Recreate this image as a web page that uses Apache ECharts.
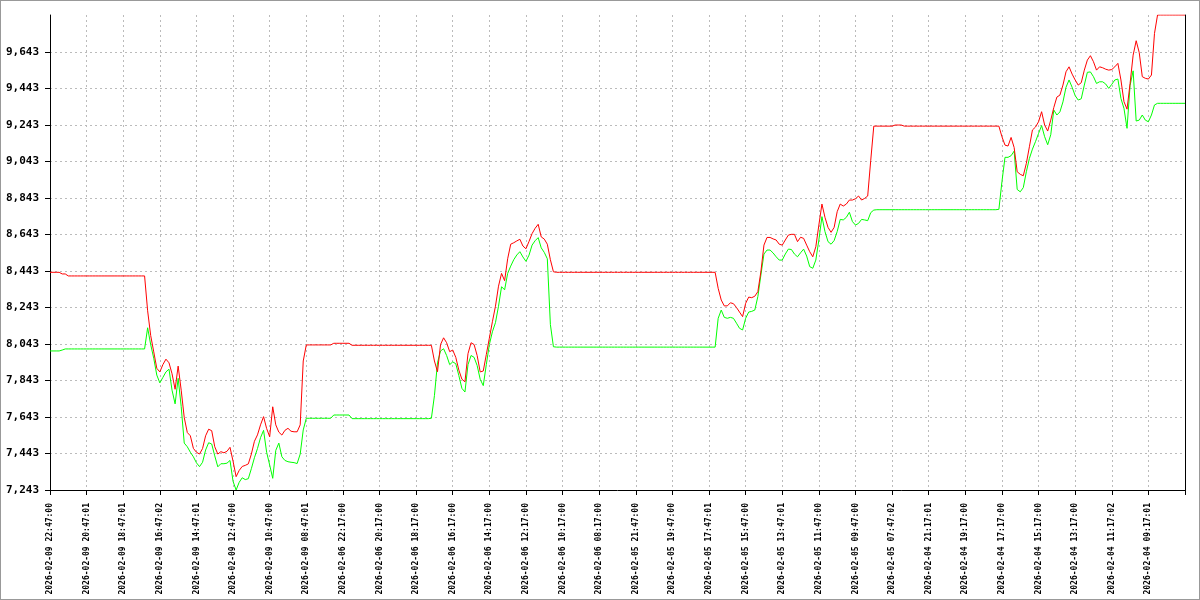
<!DOCTYPE html>
<html><head><meta charset="utf-8">
<script src="https://cdn.jsdelivr.net/npm/echarts@6/dist/echarts.min.js"></script>
<style>
html,body{margin:0;padding:0;background:#fff;}
#wrap{position:relative;width:1200px;height:600px;}
#chart{width:1200px;height:600px;}
#frame{position:absolute;left:0;top:0;width:1200px;height:600px;box-sizing:border-box;border:1px solid #999;pointer-events:none;}
</style></head><body>
<div id="wrap"><div id="chart"></div><div id="frame"></div></div>
<script>
const TICK_LABELS = [
'2026-02-09 22:47:00','2026-02-09 20:47:01','2026-02-09 18:47:01','2026-02-09 16:47:02','2026-02-09 14:47:01','2026-02-09 12:47:00','2026-02-09 10:47:00','2026-02-09 08:47:01',
'2026-02-06 22:17:00','2026-02-06 20:17:00','2026-02-06 18:17:00','2026-02-06 16:17:00','2026-02-06 14:17:00','2026-02-06 12:17:00','2026-02-06 10:17:00','2026-02-06 08:17:00',
'2026-02-05 21:47:00','2026-02-05 19:47:00','2026-02-05 17:47:01','2026-02-05 15:47:00','2026-02-05 13:47:01','2026-02-05 11:47:00','2026-02-05 09:47:00','2026-02-05 07:47:02',
'2026-02-04 21:17:01','2026-02-04 19:17:00','2026-02-04 17:17:00','2026-02-04 15:17:00','2026-02-04 13:17:00','2026-02-04 11:17:02','2026-02-04 09:17:01'
];
const Y_TICKS = [7.243,7.443,7.643,7.843,8.043,8.243,8.443,8.643,8.843,9.043,9.243,9.443,9.643];
const Y_MIN = 7.243;
const Y_MAX = 9.846;
const POINTS_PER_LABEL = 12;

const RED = [
// 0-9
8.436,8.436,8.436,8.436,8.427,8.427,8.416,8.416,8.416,8.416,
// 10-19
8.416,8.416,8.416,8.416,8.416,8.416,8.416,8.416,8.416,8.416,
// 20-29
8.416,8.416,8.416,8.416,8.416,8.416,8.416,8.416,8.416,8.416,
// 30-39
8.416,8.416,8.225,8.090,8.000,7.910,7.890,7.930,7.960,7.940,
// 40-49
7.880,7.795,7.922,7.790,7.640,7.558,7.540,7.471,7.450,7.440,
// 50-59
7.470,7.540,7.576,7.568,7.480,7.440,7.453,7.447,7.455,7.477,
// 60-69
7.400,7.316,7.350,7.372,7.378,7.386,7.440,7.510,7.545,7.600,
// 70-79
7.645,7.580,7.535,7.699,7.600,7.560,7.544,7.570,7.581,7.565,
// 80-89
7.562,7.562,7.600,7.950,8.038,8.038,8.038,8.038,8.038,8.038,
// 90-99
8.038,8.038,8.038,8.047,8.047,8.047,8.047,8.047,8.047,8.036,
// 100-109
8.036,8.036,8.036,8.036,8.036,8.036,8.036,8.036,8.036,8.036,
// 110-119
8.036,8.036,8.036,8.036,8.036,8.036,8.036,8.036,8.036,8.036,
// 120-129
8.036,8.036,8.036,8.036,8.036,8.036,7.950,7.891,8.040,8.077,
// 130-139
8.050,8.001,8.010,7.970,7.900,7.850,7.836,7.990,8.050,8.040,
// 140-149
7.980,7.890,7.895,7.985,8.075,8.165,8.250,8.360,8.430,8.390,
// 150-159
8.510,8.590,8.598,8.608,8.617,8.580,8.565,8.605,8.648,8.677,
// 160-169
8.699,8.630,8.618,8.590,8.505,8.439,8.436,8.436,8.436,8.436,
// 170-179
8.436,8.436,8.436,8.436,8.436,8.436,8.436,8.436,8.436,8.436,
// 180-189
8.436,8.436,8.436,8.436,8.436,8.436,8.436,8.436,8.436,8.436,
// 190-199
8.436,8.436,8.436,8.436,8.436,8.436,8.436,8.436,8.436,8.436,
// 200-209
8.436,8.436,8.436,8.436,8.436,8.436,8.436,8.436,8.436,8.436,
// 210-219
8.436,8.436,8.436,8.436,8.436,8.436,8.436,8.436,8.436,8.348,
// 220-229
8.284,8.252,8.252,8.269,8.264,8.243,8.218,8.193,8.266,8.300,
// 230-239
8.297,8.305,8.330,8.440,8.585,8.627,8.627,8.619,8.613,8.590,
// 240-249
8.585,8.613,8.640,8.644,8.644,8.604,8.628,8.622,8.585,8.549,
// 250-259
8.521,8.576,8.695,8.810,8.737,8.682,8.655,8.682,8.768,8.810,
// 260-269
8.799,8.810,8.832,8.832,8.839,8.854,8.832,8.841,8.854,9.050,
// 270-279
9.237,9.237,9.237,9.237,9.237,9.237,9.237,9.243,9.243,9.243,
// 280-289
9.237,9.237,9.237,9.237,9.237,9.237,9.237,9.237,9.237,9.237,
// 290-299
9.237,9.237,9.237,9.237,9.237,9.237,9.237,9.237,9.237,9.237,
// 300-309
9.237,9.237,9.237,9.237,9.237,9.237,9.237,9.237,9.237,9.237,
// 310-319
9.237,9.237,9.179,9.133,9.128,9.175,9.120,8.987,8.973,8.965,
// 320-329
9.033,9.124,9.216,9.232,9.261,9.316,9.243,9.210,9.270,9.339,
// 330-339
9.396,9.407,9.462,9.535,9.562,9.522,9.490,9.462,9.475,9.544,
// 340-349
9.599,9.623,9.590,9.544,9.562,9.557,9.549,9.544,9.547,9.562,
// 350-359
9.581,9.490,9.371,9.330,9.471,9.626,9.705,9.640,9.508,9.499,
// 360-369
9.495,9.517,9.745,9.846,9.846,9.846,9.846,9.846,9.846,9.846,
// 370-372
9.846,9.846,9.846
];

const GREEN = [
// 0-9
8.005,8.005,8.005,8.005,8.010,8.016,8.016,8.016,8.016,8.016,
// 10-19
8.016,8.016,8.016,8.016,8.016,8.016,8.016,8.016,8.016,8.016,
// 20-29
8.016,8.016,8.016,8.016,8.016,8.016,8.016,8.016,8.016,8.016,
// 30-39
8.016,8.016,8.132,8.040,7.965,7.873,7.830,7.860,7.890,7.905,
// 40-49
7.790,7.715,7.855,7.700,7.500,7.480,7.450,7.425,7.392,7.371,
// 50-59
7.395,7.462,7.502,7.495,7.430,7.370,7.387,7.387,7.390,7.405,
// 60-69
7.290,7.243,7.285,7.310,7.300,7.305,7.360,7.420,7.470,7.530,
// 70-79
7.570,7.450,7.380,7.307,7.460,7.500,7.425,7.405,7.398,7.395,
// 80-89
7.393,7.388,7.440,7.572,7.636,7.636,7.636,7.636,7.636,7.636,
// 90-99
7.636,7.636,7.636,7.654,7.654,7.654,7.654,7.654,7.654,7.634,
// 100-109
7.634,7.634,7.634,7.634,7.634,7.634,7.634,7.634,7.634,7.634,
// 110-119
7.634,7.634,7.634,7.634,7.634,7.634,7.634,7.634,7.634,7.634,
// 120-129
7.634,7.634,7.634,7.634,7.634,7.636,7.760,7.940,8.005,8.017,
// 130-139
7.980,7.930,7.945,7.935,7.870,7.800,7.780,7.930,7.980,7.970,
// 140-149
7.925,7.850,7.815,7.930,8.040,8.110,8.160,8.250,8.357,8.340,
// 150-159
8.430,8.470,8.505,8.531,8.549,8.520,8.496,8.530,8.585,8.609,
// 160-169
8.626,8.570,8.545,8.510,8.150,8.028,8.026,8.026,8.026,8.026,
// 170-179
8.026,8.026,8.026,8.026,8.026,8.026,8.026,8.026,8.026,8.026,
// 180-189
8.026,8.026,8.026,8.026,8.026,8.026,8.026,8.026,8.026,8.026,
// 190-199
8.026,8.026,8.026,8.026,8.026,8.026,8.026,8.026,8.026,8.026,
// 200-209
8.026,8.026,8.026,8.026,8.026,8.026,8.026,8.026,8.026,8.026,
// 210-219
8.026,8.026,8.026,8.026,8.026,8.026,8.026,8.026,8.026,8.184,
// 220-229
8.229,8.189,8.184,8.189,8.184,8.157,8.129,8.120,8.184,8.218,
// 230-239
8.222,8.229,8.303,8.421,8.536,8.558,8.558,8.542,8.521,8.503,
// 240-249
8.503,8.536,8.563,8.561,8.536,8.521,8.543,8.563,8.525,8.467,
// 250-259
8.458,8.503,8.613,8.741,8.659,8.604,8.590,8.610,8.659,8.726,
// 260-269
8.723,8.737,8.765,8.714,8.695,8.704,8.726,8.723,8.719,8.763,
// 270-279
8.777,8.779,8.779,8.779,8.779,8.779,8.779,8.779,8.779,8.779,
// 280-289
8.779,8.779,8.779,8.779,8.779,8.779,8.779,8.779,8.779,8.779,
// 290-299
8.779,8.779,8.779,8.779,8.779,8.779,8.779,8.779,8.779,8.779,
// 300-309
8.779,8.779,8.779,8.779,8.779,8.779,8.779,8.779,8.779,8.779,
// 310-319
8.779,8.781,8.932,9.066,9.066,9.075,9.100,8.890,8.877,8.900,
// 320-329
8.987,9.060,9.111,9.152,9.197,9.240,9.179,9.135,9.190,9.325,
// 330-339
9.298,9.315,9.370,9.450,9.490,9.450,9.404,9.380,9.387,9.462,
// 340-349
9.532,9.534,9.508,9.471,9.480,9.480,9.468,9.444,9.466,9.490,
// 350-359
9.495,9.389,9.334,9.225,9.460,9.540,9.265,9.270,9.298,9.270,
// 360-369
9.261,9.298,9.353,9.362,9.362,9.362,9.362,9.362,9.362,9.362,
// 370-372
9.362,9.362,9.362
];

const CATEGORIES = RED.map((_, i) => {
  const k = i / POINTS_PER_LABEL;
  return (i % POINTS_PER_LABEL === 0 && k < TICK_LABELS.length) ? TICK_LABELS[k] : 'p' + i;
});
const isLabelIndex = (i) => i % POINTS_PER_LABEL === 0 && i / POINTS_PER_LABEL < TICK_LABELS.length;

const gridLine = {color: '#bbbbbb', width: 1, type: [2, 3]};
const chart = echarts.init(document.getElementById('chart'), null, {renderer: 'canvas'});
chart.setOption({
  animation: false,
  backgroundColor: '#ffffff',
  grid: {left: 50, right: 15, top: 15, bottom: 110, containLabel: false},
  xAxis: {
    type: 'category', data: CATEGORIES, boundaryGap: false,
    axisLine: {show: true, onZero: false, lineStyle: {color: '#000', width: 1}},
    axisTick: {show: true, interval: POINTS_PER_LABEL - 1, length: 5, lineStyle: {color: '#000'}},
    axisLabel: {interval: (i) => isLabelIndex(i), rotate: 90, margin: 13, fontFamily: 'DejaVu Sans Mono', fontSize: 8, fontWeight: 'bold', color: '#000'},
    splitLine: {show: true, interval: (i) => isLabelIndex(i), lineStyle: gridLine}
  },
  yAxis: [{
    type: 'value', min: Y_MIN, max: Y_MAX, position: 'left',
    axisLine: {show: true, lineStyle: {color: '#000', width: 1}},
    axisTick: {show: true, length: 5, customValues: Y_TICKS, lineStyle: {color: '#000'}},
    axisLabel: {customValues: Y_TICKS, margin: 11, formatter: v => v.toFixed(3).replace('.', ','), fontFamily: 'DejaVu Sans Mono', fontSize: 11, fontWeight: 'bold', color: '#000'},
    splitLine: {show: true, lineStyle: gridLine}
  }, {
    type: 'value', min: Y_MIN, max: Y_MAX, position: 'right',
    axisLine: {show: true, lineStyle: {color: '#000', width: 1}},
    axisTick: {show: false}, axisLabel: {show: false}, splitLine: {show: false}
  }],
  series: [
    {type: 'line', data: GREEN, symbol: 'none', lineStyle: {color: '#00ff00', width: 1}, itemStyle: {color: '#00ff00'}},
    {type: 'line', data: RED, symbol: 'none', lineStyle: {color: '#ff0000', width: 1}, itemStyle: {color: '#ff0000'}}
  ]
});
</script>
</body></html>
